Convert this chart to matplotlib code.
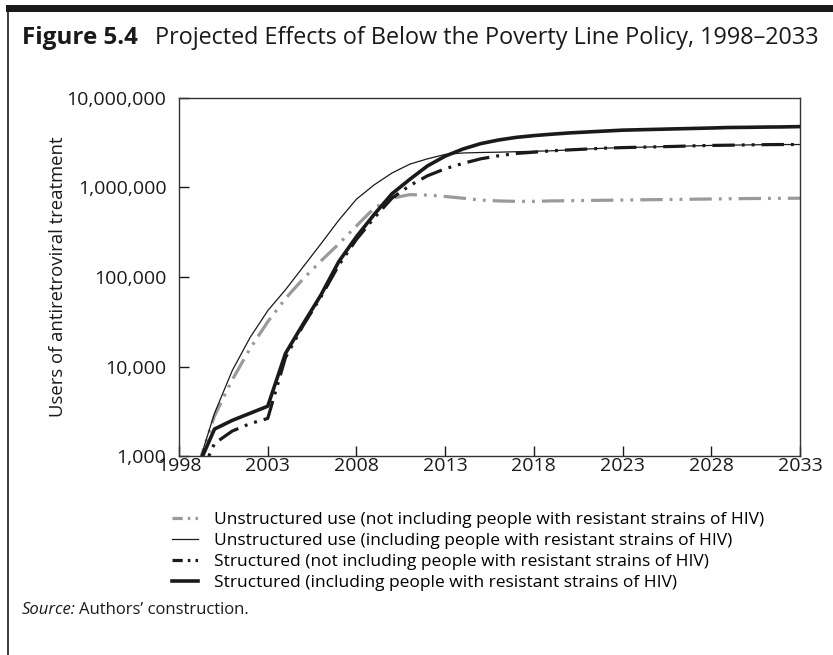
import numpy as np
import matplotlib
matplotlib.use("Agg")
import matplotlib.pyplot as plt
from matplotlib.lines import Line2D
from matplotlib.patches import Rectangle
from matplotlib.ticker import FuncFormatter, FixedLocator

plt.rcParams['font.family'] = ['Open Sans', 'DejaVu Sans']

years = list(range(1999, 2034))

# users of antiretroviral treatment (log scale)
unstruct_excl = [700, 2800, 7100, 15800, 31600, 57500, 95500, 151000, 234000,
                 372000, 589000, 759000, 832000, 822000, 794000, 759000,
                 724000, 708000, 700000, 700000, 708000, 712000, 716000,
                 720000, 724000, 728000, 732000, 736000, 740000, 744000,
                 748000, 752000, 755000, 757000, 759000]
unstruct_incl = [700, 3000, 9000, 21000, 42000, 72000, 130000, 235000, 430000,
                 740000, 1070000, 1450000, 1820000, 2090000, 2340000, 2430000,
                 2460000, 2480000, 2510000, 2540000, 2570000, 2630000, 2690000,
                 2750000, 2790000, 2820000, 2850000, 2880000, 2920000, 2950000,
                 2970000, 2990000, 3010000, 3020000, 3020000]
struct_excl = [500, 1380, 1900, 2300, 2630, 12600, 28800, 60000, 135000,
               263000, 457000, 759000, 1050000, 1350000, 1620000, 1860000,
               2090000, 2260000, 2400000, 2480000, 2570000, 2630000, 2690000,
               2750000, 2790000, 2820000, 2850000, 2880000, 2920000, 2950000,
               2970000, 2990000, 3010000, 3020000, 3020000]
struct_incl = [710, 2000, 2500, 3000, 3600, 14000, 30000, 63000, 148000,
               282000, 500000, 850000, 1230000, 1740000, 2240000, 2690000,
               3090000, 3390000, 3630000, 3800000, 3940000, 4070000, 4170000,
               4270000, 4370000, 4420000, 4470000, 4520000, 4570000, 4620000,
               4680000, 4700000, 4730000, 4750000, 4790000]

labels = [
    "Unstructured use (not including people with resistant strains of HIV)",
    "Unstructured use (including people with resistant strains of HIV)",
    "Structured (not including people with resistant strains of HIV)",
    "Structured (including people with resistant strains of HIV)",
]
x_ticks = [1998, 2003, 2008, 2013, 2018, 2023, 2028, 2033]
y_ticks = [1e3, 1e4, 1e5, 1e6, 1e7]

INK = "#1a1a1a"
GREY = "#9a9a9a"

fig = plt.figure(figsize=(8.33, 6.55), dpi=100)
ax = fig.add_axes([0.2149, 0.3038, 0.7455, 0.5466])

dashdot2 = (0, (7, 2.2, 0.9, 2.2, 0.9, 2.2))
ax.plot(years, unstruct_excl, color=GREY, lw=2.3, linestyle=dashdot2)
ax.plot(years, unstruct_incl, color=INK, lw=0.9)
ax.plot(years, struct_excl, color=INK, lw=2.3, linestyle=dashdot2)
ax.plot(years, struct_incl, color=INK, lw=2.6)

ax.set_yscale("log")
ax.set_xlim(1998, 2033)
ax.set_ylim(1e3, 1e7)
ax.xaxis.set_major_locator(FixedLocator(x_ticks))
ax.yaxis.set_major_locator(FixedLocator(y_ticks))
ax.yaxis.set_minor_locator(FixedLocator([]))
ax.yaxis.set_major_formatter(FuncFormatter(lambda v, p: f"{int(round(v)):,}"))
ax.tick_params(direction="in", length=7, width=1, labelsize=14, colors=INK)
ax.tick_params(axis="x", pad=1)
ax.tick_params(axis="y", pad=9)
for s in ax.spines.values():
    s.set_linewidth(1)
    s.set_color("#333333")

fig.text(58 / 833, 1 - 277 / 655, "Users of antiretroviral treatment",
         rotation=90, fontsize=13.3, va="center", ha="center", color=INK)

# legend keys: a short dash and two dots, as in the printed key
short_dd = (0, (3.2, 1.6, 0.8, 1.6, 0.8, 1.6))
handles = [
    Line2D([], [], color=GREY, lw=2.3, linestyle=short_dd),
    Line2D([], [], color=INK, lw=0.9),
    Line2D([], [], color=INK, lw=2.3, linestyle=short_dd),
    Line2D([], [], color=INK, lw=2.6),
]
ax.legend(handles, labels, loc="upper left", bbox_to_anchor=(-0.022, -0.136),
          frameon=False, fontsize=12.5, handlelength=1.5, handletextpad=0.9,
          labelspacing=0.28, borderaxespad=0)

# frame of the figure box
fig.add_artist(Rectangle((6 / 833, 1 - 12 / 655), 1 - 6 / 833, 7 / 655,
                         transform=fig.transFigure, color=INK, lw=0))
fig.add_artist(Line2D([8 / 833, 8 / 833], [0, 1 - 12 / 655],
                      transform=fig.transFigure, color=INK, lw=1.2))

fig.text(22 / 833, 1 - 38 / 655, "Figure 5.4", fontsize=17.5, fontweight="bold",
         va="center", ha="left", color=INK)
fig.text(155 / 833, 1 - 38 / 655,
         "Projected Effects of Below the Poverty Line Policy, 1998\u20132033",
         fontsize=16.8, va="center", ha="left", color=INK)

fig.text(22 / 833, 1 - 610 / 655, "Source:", fontsize=12, style="italic",
         va="center", ha="left", color=INK)
fig.text(79 / 833, 1 - 610 / 655, "Authors\u2019 construction.", fontsize=12,
         va="center", ha="left", color=INK)

fig.savefig("out.png", dpi=100)
